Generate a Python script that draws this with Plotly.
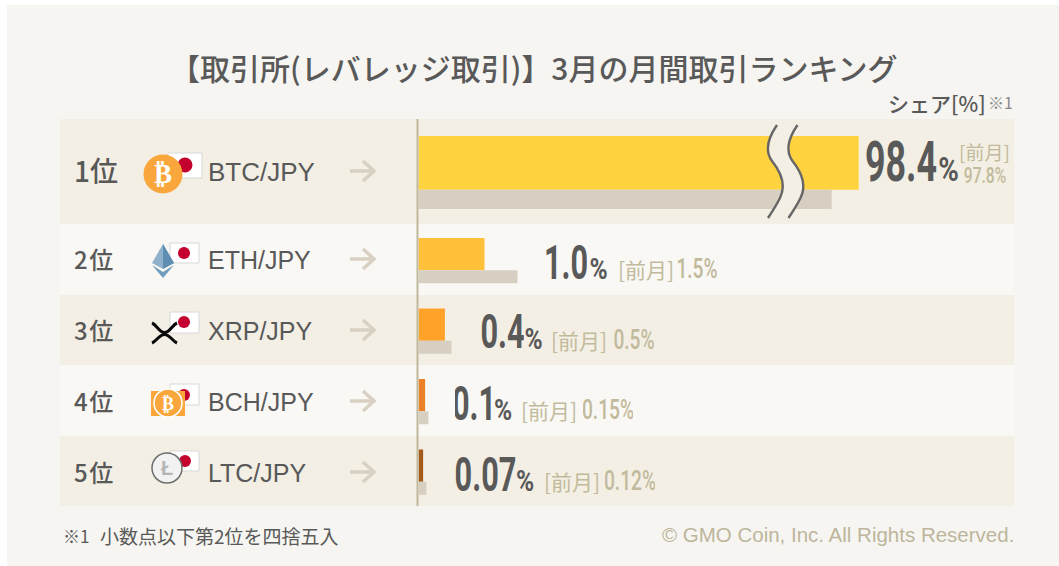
import plotly.graph_objects as go

W, H = 1059, 566

# ---------- data ----------
title = "【取引所(レバレッジ取引)】3月の月間取引ランキング"
ranks = ["1位", "2\u200a位", "3\u200a位", "4\u200a位", "5\u200a位"]
pairs = ["BTC/JPY", "ETH/JPY", "XRP/JPY", "BCH/JPY", "LTC/JPY"]
share_now = [98.4, 1.0, 0.4, 0.1, 0.07]
share_prev = [97.8, 1.5, 0.5, 0.15, 0.12]
share_now_text = ["98.4", "1.0", "0.4", "0.1", "0.07"]
share_prev_text = ["97.8", "1.5", "0.5", "0.15", "0.12"]
# BTC bars cross the wavy axis break, so they are drawn shortened
btc_now_drawn = 6.67
btc_prev_drawn = 6.26
bar_colors = ["#FFD23F", "#FFC03A", "#FFA229", "#EB8127", "#A35A1B"]

def px(x):
    return x / W
def py(y):
    return 1 - y / H

shapes, ann = [], []

def rect(x0, y0, x1, y1, fill, line=None, lw=0, layer="below"):
    shapes.append(dict(type="rect", xref="paper", yref="paper", x0=px(x0), x1=px(x1), y0=py(y0), y1=py(y1),
                       fillcolor=fill, line=dict(color=line or fill, width=lw), layer=layer))
def circle(cx, cy, r, fill, line=None, lw=0):
    shapes.append(dict(type="circle", xref="paper", yref="paper", x0=px(cx - r), x1=px(cx + r), y0=py(cy - r), y1=py(cy + r),
                       fillcolor=fill, line=dict(color=line or fill, width=lw), layer="above"))
def pt(p):
    return f"{px(p[0])},{py(p[1])}"
def curve_d(pts):
    d = "M" + pt(pts[0])
    for i in range(1, len(pts), 3):
        d += " C" + " ".join(pt(p) for p in pts[i:i + 3])
    return d
def raw(d, fill=None, line=None, lw=0):
    shapes.append(dict(type="path", xref="paper", yref="paper", path=d, fillcolor=fill or "rgba(0,0,0,0)",
                       line=dict(color=line or "rgba(0,0,0,0)", width=lw), layer="above"))
def path(points, fill=None, line=None, lw=0, closed=False):
    raw("M" + " L".join(pt(p) for p in points) + (" Z" if closed else ""), fill, line, lw)
def text(x, y, s, size, color, anchor="left", font="Noto Sans CJK JP", weight=None, box=None):
    f = dict(size=size, color=color, family=font)
    if weight:
        f["weight"] = weight
    a = dict(xref="paper", yref="paper", x=px(x), y=py(y), text=s, showarrow=False, xanchor=anchor,
             yanchor="middle", font=f, align=anchor, borderpad=0)
    if box:
        a["width"] = box
    ann.append(a)

# panel and rows
rect(7, 5, 1059, 566, "#F6F5F1")
row_edges = [119, 224, 295, 365, 436, 506]
row_fill = ["#F3EFE4", "#F9F8F4", "#F3EFE4", "#F9F8F4", "#F3EFE4"]
for i in range(5):
    rect(60, row_edges[i], 1014, row_edges[i + 1], row_fill[i])
rect(416.5, 119, 418.5, 506, "#BFB89C", layer="above")

INK = "#595959"
TAN = "#C2BA9C"
COND = "Roboto"   # squeezed horizontally after drawing, see post_script
centers = [171, 259, 330, 401, 472]
text(534, 67, title, 30, INK, "center", weight=500)
text(887, 103, "シェア[%]", 21, INK, weight=500)
text(987, 102, "※1", 16, "#8a8a8a")
text(62, 535, "※1", 17, INK)
text(99, 535, "小数点以下第2位を四捨五入", 19, INK)
text(1015, 534, "© GMO Coin, Inc. All Rights Reserved.", 20.5, "#BDB69C", "right", font="Liberation Sans")

rank_size = [28, 24, 24, 24, 24]
pair_size = [26, 25, 25, 25, 25]
for i in range(5):
    text(73, centers[i] - 1, ranks[i], rank_size[i], INK, weight=500)
    text(207, centers[i] + 1, pairs[i], pair_size[i], INK, font="Liberation Sans")
    cy = centers[i]
    path([(350, cy), (374, cy)], line="#D8D0C2", lw=3.5)
    path([(363, cy - 10), (374, cy), (363, cy + 10)], line="#D8D0C2", lw=3.5)

# flags
flag_pos = [(168, 153, 202, 178), (170, 243, 199, 263), (170, 312, 199, 333), (170, 384, 199, 405), (170, 451, 199, 471)]
sun_pos = [(185, 165, 7.5), (184, 253, 6), (184, 322, 6), (184, 395, 6), (185, 461, 6)]
for (a, b, c, d), (e, f, g) in zip(flag_pos, sun_pos):
    rect(a, b, c, d, "#FFFFFF", "#D8D8D8", 1, layer="above")
    circle(e, f, g, "#C4002F")

# BTC coin
circle(163, 174, 19.5, "#F9A63C")
text(163, 174, "₿", 27, "#FFFFFF", "center", font="DejaVu Sans", weight=700)
# ETH
path([(163, 244), (152, 263), (163, 269), (174, 263)], fill="#8FB1CB", closed=True)
path([(163, 244), (174, 263), (163, 269)], fill="#5F8FB0", closed=True)
path([(152, 265), (163, 278), (174, 265), (163, 272)], fill="#6F9DBC", closed=True)
# XRP
raw(curve_d([(152, 323), (157, 325), (159, 332.5), (164.5, 332.5), (170, 332.5), (172, 325), (177, 323)]), line="#0A0A0A", lw=3)
raw(curve_d([(152, 343), (157, 341), (159, 334.5), (164.5, 334.5), (170, 334.5), (172, 341), (177, 343)]), line="#0A0A0A", lw=3)
# BCH
rect(151, 391, 185, 416, "#F9A63C", layer="above")
circle(168, 403, 14, "#F9A63C", "#FFFFFF", 1.5)
text(168, 403, "₿", 18, "#FFFFFF", "center", font="DejaVu Sans", weight=700)
# LTC
circle(167, 468, 15, "#F2F2F2", "#6E6E6E", 1.5)
text(167, 468, "Ł", 20, "#B5B5B5", "center", font="Liberation Sans", weight=700)

# value labels
big_cx = [901, 566, 502, 474, 485]
big_w = [74, 42, 43, 38, 63]
big_size = [56, 48, 48, 48, 48]
big_cy = [162, 262, 332, 403, 474]
pct_cx = [948, 598, 533, 503, 525]
pct_w = [21, 19, 19, 18, 18]
pct_cy = [169, 268, 338, 409, 480]
pct_size = [34, 30, 30, 30, 30]
for i in range(5):
    text(big_cx[i], big_cy[i], share_now_text[i], big_size[i], INK, "center", COND, 700, big_w[i])
    text(pct_cx[i], pct_cy[i], "%", pct_size[i], INK, "center", COND, 700, pct_w[i])
text(958, 151, "[前月]", 19, TAN)
text(985, 175, share_prev_text[0] + "%", 22, TAN, "center", COND, 500, 44)
prev_tag_x = [617, 550, 520, 543]
prev_tag_y = [269, 340, 410, 481]
prev_cx = [697, 634, 608, 630]
prev_w = [42, 42, 50, 50]
for i in range(1, 5):
    text(prev_tag_x[i - 1], prev_tag_y[i - 1], "[前月]", 21, TAN)
    text(prev_cx[i - 1], prev_tag_y[i - 1], share_prev_text[i] + "%", 27, TAN, "center", COND, 500, prev_w[i - 1])

# axis break: row colour between two wavy lines
wave_left = [(777, 125), (768, 138), (764, 150), (772, 161), (780, 171), (787, 184), (780, 198), (776, 206), (772, 212), (768, 218)]
wave_right = [(x + 20.5, y) for x, y in wave_left]
rev = wave_right[::-1]
fill_d = curve_d(wave_left) + " L" + pt(rev[0])
for i in range(1, len(rev), 3):
    fill_d += " C" + " ".join(pt(p) for p in rev[i:i + 3])
raw(fill_d + " Z", fill="#F3EFE4")
raw(curve_d(wave_left), line="#666666", lw=2.4)
raw(curve_d(wave_right), line="#666666", lw=2.4)

fig = go.Figure()
# top row on its own (taller) band, the other four rows share the lower band
fig.add_trace(go.Bar(y=[pairs[0]], x=[btc_now_drawn], orientation="h", width=0.51, offset=-0.337,
                     marker=dict(color=bar_colors[0], line_width=0), xaxis="x", yaxis="y2", showlegend=False))
fig.add_trace(go.Bar(y=[pairs[0]], x=[btc_prev_drawn], orientation="h", width=0.183, offset=0.173,
                     marker=dict(color="#D6CFC2", line_width=0), xaxis="x", yaxis="y2", showlegend=False))
fig.add_trace(go.Bar(y=pairs[1:], x=share_now[1:], orientation="h", width=0.455, offset=-0.3,
                     marker=dict(color=bar_colors[1:], line_width=0), xaxis="x", yaxis="y", showlegend=False))
fig.add_trace(go.Bar(y=pairs[1:], x=share_prev[1:], orientation="h", width=0.185, offset=0.155,
                     marker=dict(color="#D6CFC2", line_width=0), xaxis="x", yaxis="y", showlegend=False))

fig.update_layout(
    width=W, height=H, autosize=False, margin=dict(l=0, r=0, t=0, b=0),
    paper_bgcolor="#FFFFFF", plot_bgcolor="rgba(0,0,0,0)", barmode="overlay",
    xaxis=dict(domain=[px(418.5), px(1014)], range=[0, 595.5 / 66], visible=False, fixedrange=True),
    yaxis=dict(domain=[py(506), py(224)], type="category", categoryorder="array", categoryarray=pairs[1:],
               autorange="reversed", visible=False, anchor="x"),
    yaxis2=dict(domain=[py(224), py(119)], type="category", autorange="reversed", visible=False, anchor="x"),
    shapes=shapes, annotations=ann,
)
post = """
document.body.style.margin='0';document.documentElement.style.overflow='hidden';
function squeeze(){
  document.querySelectorAll('.annotation-text').forEach(function(t){
    if(t.getAttribute('textLength')) return;
    if((t.style.fontFamily||'').indexOf('Roboto')<0) return;
    var size=parseFloat(t.style.fontSize), s=t.textContent==='%'?0.82:(size>=40?0.64:0.71);
    t.setAttribute('lengthAdjust','spacingAndGlyphs');
    t.setAttribute('textLength',t.getComputedTextLength()*s);
  });
}
squeeze();setTimeout(squeeze,50);setTimeout(squeeze,300);
"""
fig.write_html("out.html", config=dict(displayModeBar=False), post_script=post)
